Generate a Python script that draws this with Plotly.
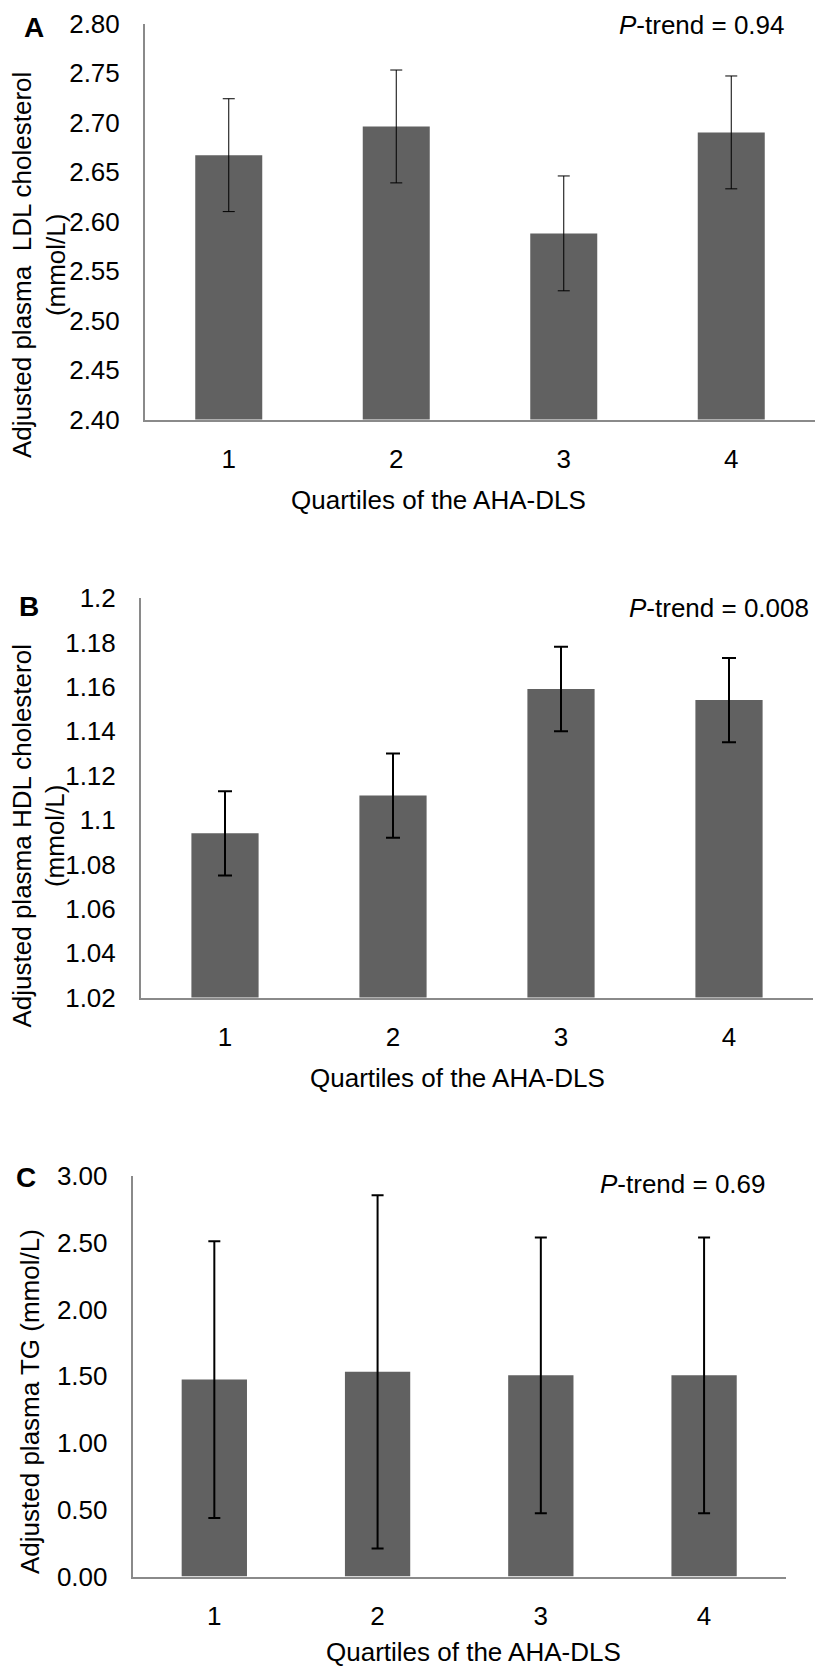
import plotly.graph_objects as go

W, H = 815, 1667

quartiles = [1, 2, 3, 4]
quartile_labels = ["1", "2", "3", "4"]

ldl_mean = [2.667, 2.696, 2.588, 2.690]
ldl_err = [0.057, 0.057, 0.058, 0.057]

hdl_mean = [1.094, 1.111, 1.159, 1.154]
hdl_err = [0.019, 0.019, 0.019, 0.019]

tg_mean = [1.475, 1.533, 1.507, 1.507]
tg_err = [1.037, 1.323, 1.033, 1.033]

ldl_ticks = [2.40, 2.45, 2.50, 2.55, 2.60, 2.65, 2.70, 2.75, 2.80]
ldl_ticktext = ["2.40", "2.45", "2.50", "2.55", "2.60", "2.65", "2.70", "2.75", "2.80"]
hdl_ticks = [1.02, 1.04, 1.06, 1.08, 1.10, 1.12, 1.14, 1.16, 1.18, 1.20]
hdl_ticktext = ["1.02", "1.04", "1.06", "1.08", "1.1", "1.12", "1.14", "1.16", "1.18", "1.2"]
tg_ticks = [0.0, 0.5, 1.0, 1.5, 2.0, 2.5, 3.0]
tg_ticktext = ["0.00", "0.50", "1.00", "1.50", "2.00", "2.50", "3.00"]

p_trends = ["<i>P</i>-trend = 0.94", "<i>P</i>-trend = 0.008", "<i>P</i>-trend = 0.69"]
y_titles = ["Adjusted plasma  LDL cholesterol<br>(mmol/L)",
            "Adjusted plasma HDL cholesterol<br>(mmol/L)",
            "Adjusted plasma TG (mmol/L)"]
panel_letters = ["A", "B", "C"]
x_title = "Quartiles of the AHA-DLS"

FONT = "Liberation Sans, Arial, sans-serif"
BAR = "#616161"
AXIS = "#8a8a8a"


def px(x):
    return x / W


def py(y):
    return 1 - y / H


fig = go.Figure()

panels = [
    dict(means=ldl_mean, errs=ldl_err, ticks=ldl_ticks, ticktext=ldl_ticktext,
         yr=[2.40, 2.80], xd=[145, 815], yd=[23.5, 419.5], ew=1, cap=6),
    dict(means=hdl_mean, errs=hdl_err, ticks=hdl_ticks, ticktext=hdl_ticktext,
         yr=[1.02, 1.20], xd=[141, 813], yd=[598, 997.6], ew=2, cap=7),
    dict(means=tg_mean, errs=tg_err, ticks=tg_ticks, ticktext=tg_ticktext,
         yr=[0, 3.0], xd=[132.7, 785.7], yd=[1176, 1576.5], ew=2, cap=6),
]

for i, p in enumerate(panels):
    sfx = "" if i == 0 else str(i + 1)
    fig.add_trace(go.Bar(
        x=quartiles, y=p["means"], width=0.4,
        marker=dict(color=BAR, line=dict(width=0)),
        error_y=dict(type="data", array=p["errs"], visible=True,
                     color="black", thickness=p["ew"], width=p["cap"]),
        xaxis="x" + sfx, yaxis="y" + sfx, showlegend=False, hoverinfo="skip"))
    fig.update_layout(**{
        "xaxis" + sfx: dict(domain=[px(p["xd"][0]), px(p["xd"][1])], range=[0.5, 4.5],
                            anchor="y" + sfx, tickvals=quartiles, ticktext=quartile_labels,
                            showline=True, linecolor=AXIS, linewidth=2, showgrid=False,
                            zeroline=False, ticks="", ticklabelstandoff=15, automargin=False,
                            tickfont=dict(family=FONT, size=26, color="black"), fixedrange=True),
        "yaxis" + sfx: dict(domain=[py(p["yd"][1]), py(p["yd"][0])], range=p["yr"],
                            anchor="x" + sfx, tickvals=p["ticks"], ticktext=p["ticktext"],
                            showline=True, linecolor=AXIS, linewidth=2, showgrid=False,
                            zeroline=False, ticks="", ticklabelstandoff=18, automargin=False,
                            tickfont=dict(family=FONT, size=26, color="black"), fixedrange=True),
    })

ann = []
ytitle_pos = [(39, 265), (38.5, 836), (30, 1402)]
for t, (x, y) in zip(y_titles, ytitle_pos):
    ann.append(dict(text=t, x=px(x), y=py(y), xref="paper", yref="paper",
                    xanchor="center", yanchor="middle", textangle=-90, showarrow=False,
                    font=dict(family=FONT, size=26, color="black")))
xtitle_pos = [(438, 500), (457, 1078), (473, 1652)]
for (x, y) in xtitle_pos:
    ann.append(dict(text=x_title, x=px(x), y=py(y), xref="paper", yref="paper",
                    xanchor="center", yanchor="middle", showarrow=False,
                    font=dict(family=FONT, size=26, color="black")))
ptrend_pos = [(787, 25), (811, 608), (768, 1184)]
for t, (x, y) in zip(p_trends, ptrend_pos):
    ann.append(dict(text=t, x=px(x), y=py(y), xref="paper", yref="paper",
                    xanchor="right", yanchor="middle", showarrow=False,
                    font=dict(family=FONT, size=26, color="black")))
letter_pos = [(33.5, 28), (29, 606), (25.5, 1177)]
for t, (x, y) in zip(panel_letters, letter_pos):
    ann.append(dict(text="<b>" + t + "</b>", x=px(x), y=py(y), xref="paper", yref="paper",
                    xanchor="center", yanchor="middle", showarrow=False,
                    font=dict(family=FONT, size=28, color="black")))

fig.update_layout(
    width=W, height=H, margin=dict(l=0, r=0, t=0, b=0, autoexpand=False),
    paper_bgcolor="white", plot_bgcolor="white",
    annotations=ann, showlegend=False,
)

fig.write_html("out.html", config={"displayModeBar": False})
